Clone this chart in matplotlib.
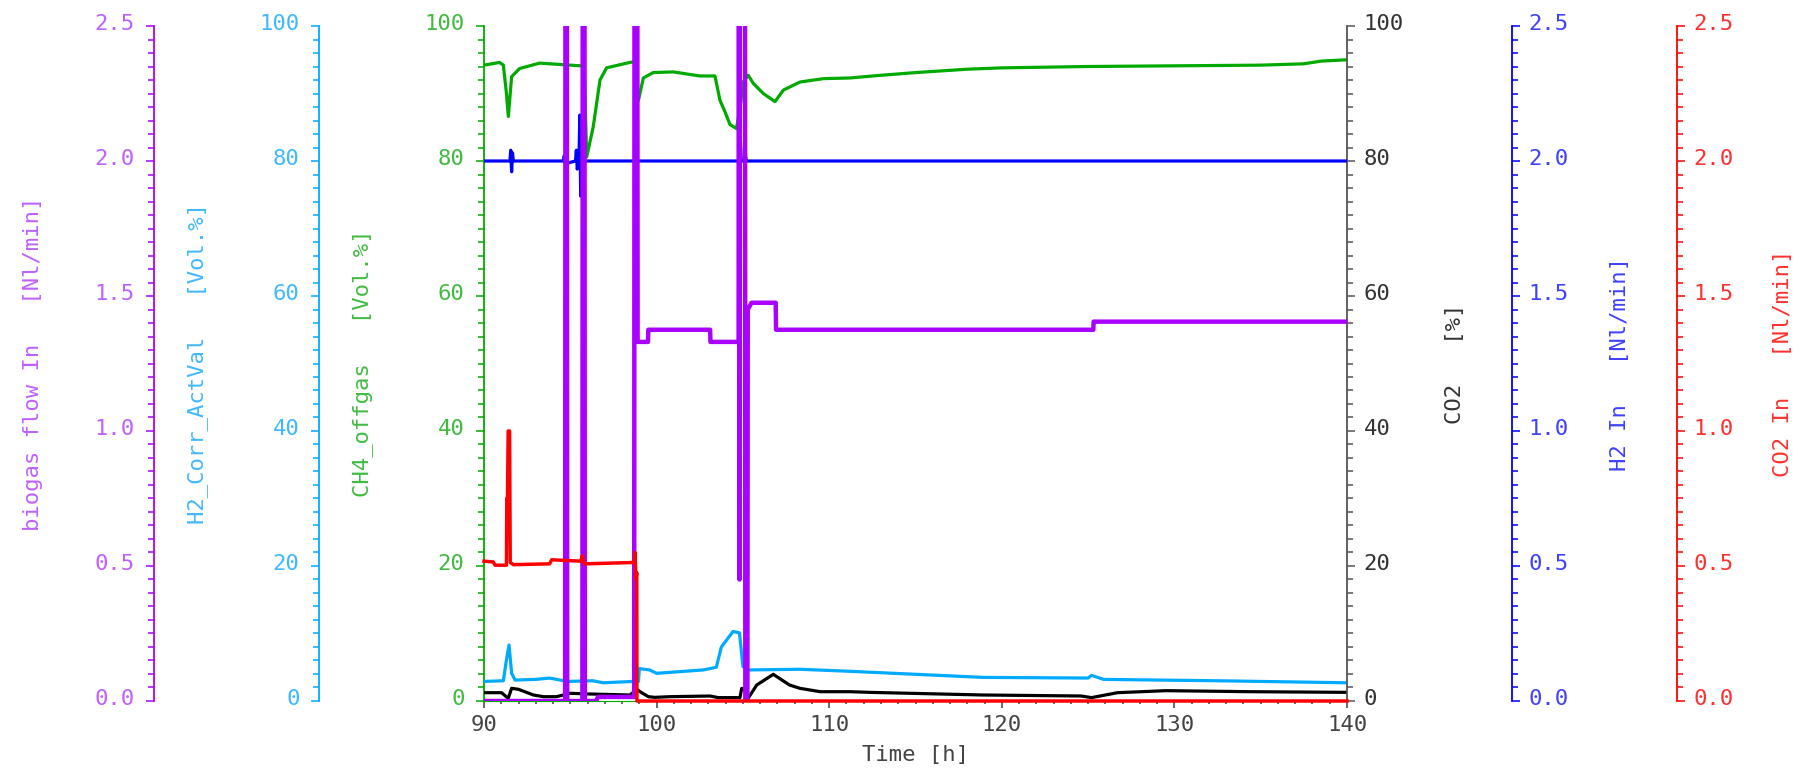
import numpy as np
import matplotlib.pyplot as plt
from matplotlib.ticker import MultipleLocator, FormatStrFormatter
from matplotlib.transforms import ScaledTranslation

# time axis [h]
x_range = [90, 140]

# CH4_offgas [Vol.%]  (green, left axis 0-100)
t_ch4 = [90.0, 90.9, 91.12, 91.3, 91.41, 91.6, 92.06, 93.22, 95.6, 95.8, 95.95, 96.33,
         96.72, 97.1, 98.45, 98.7, 98.95, 99.23, 99.8, 100.96, 102.5, 103.38, 103.67,
         103.96, 104.25, 104.63, 104.9, 104.95, 105.31, 105.6, 106.18, 106.86, 107.34,
         108.3, 109.66, 111.2, 113.0, 115.0, 118.0, 120.0, 125.0, 130.0, 135.0, 137.5,
         138.5, 140.0]
ch4 = [94.2, 94.6, 94.2, 90.0, 86.6, 92.5, 93.7, 94.5, 94.1, 94.0, 80.6, 85.1,
       92.0, 93.8, 94.6, 94.7, 89.0, 92.3, 93.1, 93.2, 92.6, 92.6, 89.0,
       87.3, 85.4, 84.8, 89.0, 91.5, 92.7, 91.5, 90.0, 88.8, 90.5,
       91.7, 92.2, 92.3, 92.7, 93.1, 93.6, 93.8, 94.0, 94.1, 94.2, 94.4,
       94.8, 95.0]

# H2_Corr_ActVal [Vol.%]  (light blue, 0-100)
t_h2c = [90.0, 91.12, 91.3, 91.45, 91.6, 91.8, 93.0, 93.8, 94.8, 96.3, 96.9, 98.65,
         98.95, 99.0, 99.6, 100.0, 102.7, 103.46, 103.75, 104.43, 104.8, 105.0, 105.3,
         108.3, 111.2, 118.9, 125.0, 125.2, 125.9, 132.45, 140.0]
h2c = [2.9, 3.0, 6.1, 8.3, 4.1, 3.1, 3.2, 3.4, 2.9, 3.0, 2.7, 2.9,
       2.9, 4.8, 4.6, 4.1, 4.6, 5.0, 8.0, 10.3, 10.1, 5.1, 4.6,
       4.7, 4.4, 3.5, 3.4, 3.8, 3.2, 3.0, 2.7]

# CO2 [%]  (black, right axis 0-100)
t_co2 = [90.0, 91.02, 91.4, 91.6, 92.0, 92.86, 93.44, 94.2, 94.98, 96.1, 98.46, 98.85,
         99.04, 99.52, 99.9, 100.78, 103.1, 103.57, 104.83, 104.93, 105.12, 105.3, 105.8,
         106.76, 107.7, 108.3, 109.47, 111.2, 112.36, 118.9, 124.6, 125.2, 126.7, 129.5,
         134.4, 140.0]
co2 = [1.23, 1.23, 0.39, 1.88, 1.73, 0.89, 0.64, 0.64, 1.14, 1.04, 0.89, 1.73,
       1.38, 0.64, 0.54, 0.64, 0.74, 0.5, 0.5, 1.88, 1.6, 0.39, 2.37,
       3.95, 2.37, 1.88, 1.38, 1.38, 1.28, 0.89, 0.74, 0.5, 1.23, 1.53,
       1.38, 1.28]

# H2 In [Nl/min]  (blue, 0-2.5)
t_h2in = [90.0, 91.5, 91.55, 91.6, 91.65, 91.7, 94.6, 94.65, 94.7, 95.3, 95.35, 95.4,
          95.5, 95.55, 95.6, 95.7, 95.8, 104.9, 105.05, 105.1, 105.15, 105.2, 140.0]
h2in = [2.0, 2.0, 2.04, 1.96, 2.03, 2.0, 2.0, 2.02, 1.99, 2.0, 2.04, 1.97,
        2.0, 2.17, 1.87, 2.05, 2.0, 2.0, 2.0, 2.08, 2.02, 2.0, 2.0]

# biogas flow In [Nl/min]  (purple, 0-2.5)
t_bio = [90.0, 94.7, 94.72, 94.8, 94.82, 95.7, 95.72, 95.82, 95.84, 96.5, 96.6, 98.7,
         98.72, 98.88, 98.9, 99.5, 99.52, 103.1, 103.12, 104.75, 104.77, 104.8, 104.82,
         105.12, 105.14, 105.26, 105.28, 105.5, 106.9, 106.92, 125.3, 125.32, 140.0]
bio = [0.0, 0.0, 3.0, 3.0, 0.0, 0.0, 3.0, 3.0, 0.0, 0.0, 0.015, 0.015,
       3.0, 3.0, 1.33, 1.33, 1.375, 1.375, 1.33, 1.33, 3.0, 0.45, 3.0,
       3.0, 0.0, 0.0, 1.45, 1.475, 1.475, 1.375, 1.375, 1.405, 1.405]

# CO2 In [Nl/min]  (red, 0-2.5)
t_co2in = [90.0, 90.54, 90.64, 91.3, 91.32, 91.36, 91.4, 91.48, 91.52, 91.7, 93.8, 93.92,
           95.6, 95.7, 95.8, 98.7, 98.75, 98.8, 98.85, 98.86, 140.0]
co2in = [0.518, 0.515, 0.503, 0.503, 0.75, 0.75, 1.0, 1.0, 0.513, 0.505, 0.508, 0.523,
         0.518, 0.538, 0.508, 0.513, 0.55, 0.45, 0.475, 0.0, 0.0]

plt.rcParams['font.family'] = 'DejaVu Sans Mono'
plt.rcParams['font.size'] = 16

fig = plt.figure(figsize=(18.06, 7.72), dpi=100)
ax = fig.add_axes([0.2680, 0.09197, 0.47785, 0.87435])
lift = ScaledTranslation(0, 4 / 100, fig.dpi_scale_trans)


def style(a, side, pos, color, tcolor, ylim, major, fmt, label, labelx):
    for s in a.spines.values():
        s.set_visible(False)
    sp = a.spines[side]
    sp.set_visible(True)
    sp.set_position(('axes', pos))
    sp.set_color(color)
    sp.set_linewidth(1.3)
    if side == 'left':
        a.yaxis.tick_left()
        pad = 8
    else:
        a.yaxis.tick_right()
        pad = 6
    a.yaxis.set_label_position(side)
    a.set_ylim(ylim)
    a.yaxis.set_major_locator(MultipleLocator(major))
    a.yaxis.set_minor_locator(MultipleLocator(major / 10))
    a.yaxis.set_major_formatter(FormatStrFormatter(fmt))
    a.tick_params(axis='y', which='major', length=6, width=1.1, color=color,
                  labelcolor=tcolor, pad=pad)
    a.tick_params(axis='y', which='minor', length=4, width=1.1, color=color)
    a.set_ylabel(label, color=tcolor)
    a.yaxis.set_label_coords(labelx, 0.5)
    a.yaxis.label.set_verticalalignment('center')
    a.yaxis.label.set_horizontalalignment('center')
    for tk in a.yaxis.get_major_ticks():
        for lab in (tk.label1, tk.label2):
            lab.set_transform(lab.get_transform() + lift)


# CH4 on main axes
ax.plot(t_ch4, ch4, color='#00AA00', lw=2.3)
style(ax, 'left', 0.0, '#00AA00', '#40BB40', (0, 100), 20, '%d',
      'CH4_offgas   [Vol.%]', -0.1402)
ax.spines['bottom'].set_visible(True)
ax.spines['bottom'].set_color('#00AA00')
ax.set_xlim(x_range)
ax.xaxis.set_major_locator(MultipleLocator(10))
ax.xaxis.set_minor_locator(MultipleLocator(1))
ax.tick_params(axis='x', which='major', length=5, width=1.1, color='#444444',
               labelcolor='#444444', pad=5)
ax.tick_params(axis='x', which='minor', length=2.5, width=1.1, color='#444444')
ax.set_xlabel('Time [h]', color='#444444')
ax.xaxis.set_label_coords(0.5, -0.08)
ax.xaxis.label.set_verticalalignment('center')

ax_h2c = ax.twinx()
ax_h2c.plot(t_h2c, h2c, color='#00AAFF', lw=2.3)
style(ax_h2c, 'left', -0.1912, '#00AAFF', '#40B8FF', (0, 100), 20, '%d',
      'H2_Corr_ActVal   [Vol.%]', -0.3314)

ax_co2 = ax.twinx()
ax_co2.plot(t_co2, co2, color='black', lw=2.3)
style(ax_co2, 'right', 1.0, '#555555', '#333333', (0, 100), 20, '%d',
      'CO2   [%]', 1.1251)

ax_h2in = ax.twinx()
ax_h2in.plot(t_h2in, h2in, color='#0000FF', lw=2.3)
style(ax_h2in, 'right', 1.1912, '#0000FF', '#4040FF', (0, 2.5), 0.5, '%.1f',
      'H2 In   [Nl/min]', 1.3163)

ax_bio = ax.twinx()
ax_bio.plot(t_bio, bio, color='#AA00FF', lw=3.2)
style(ax_bio, 'left', -0.3824, '#AA00FF', '#C060FF', (0, 2.5), 0.5, '%.1f',
      'biogas flow In   [Nl/min]', -0.5226)

ax_co2in = ax.twinx()
ax_co2in.plot(t_co2in, co2in, color='#FF0000', lw=2.5, clip_on=False)
style(ax_co2in, 'right', 1.3824, '#FF0000', '#FF3030', (0, 2.5), 0.5, '%.1f',
      'CO2 In   [Nl/min]', 1.5052)

ax.yaxis.tick_left()

fig.savefig('out.png', dpi=100)
